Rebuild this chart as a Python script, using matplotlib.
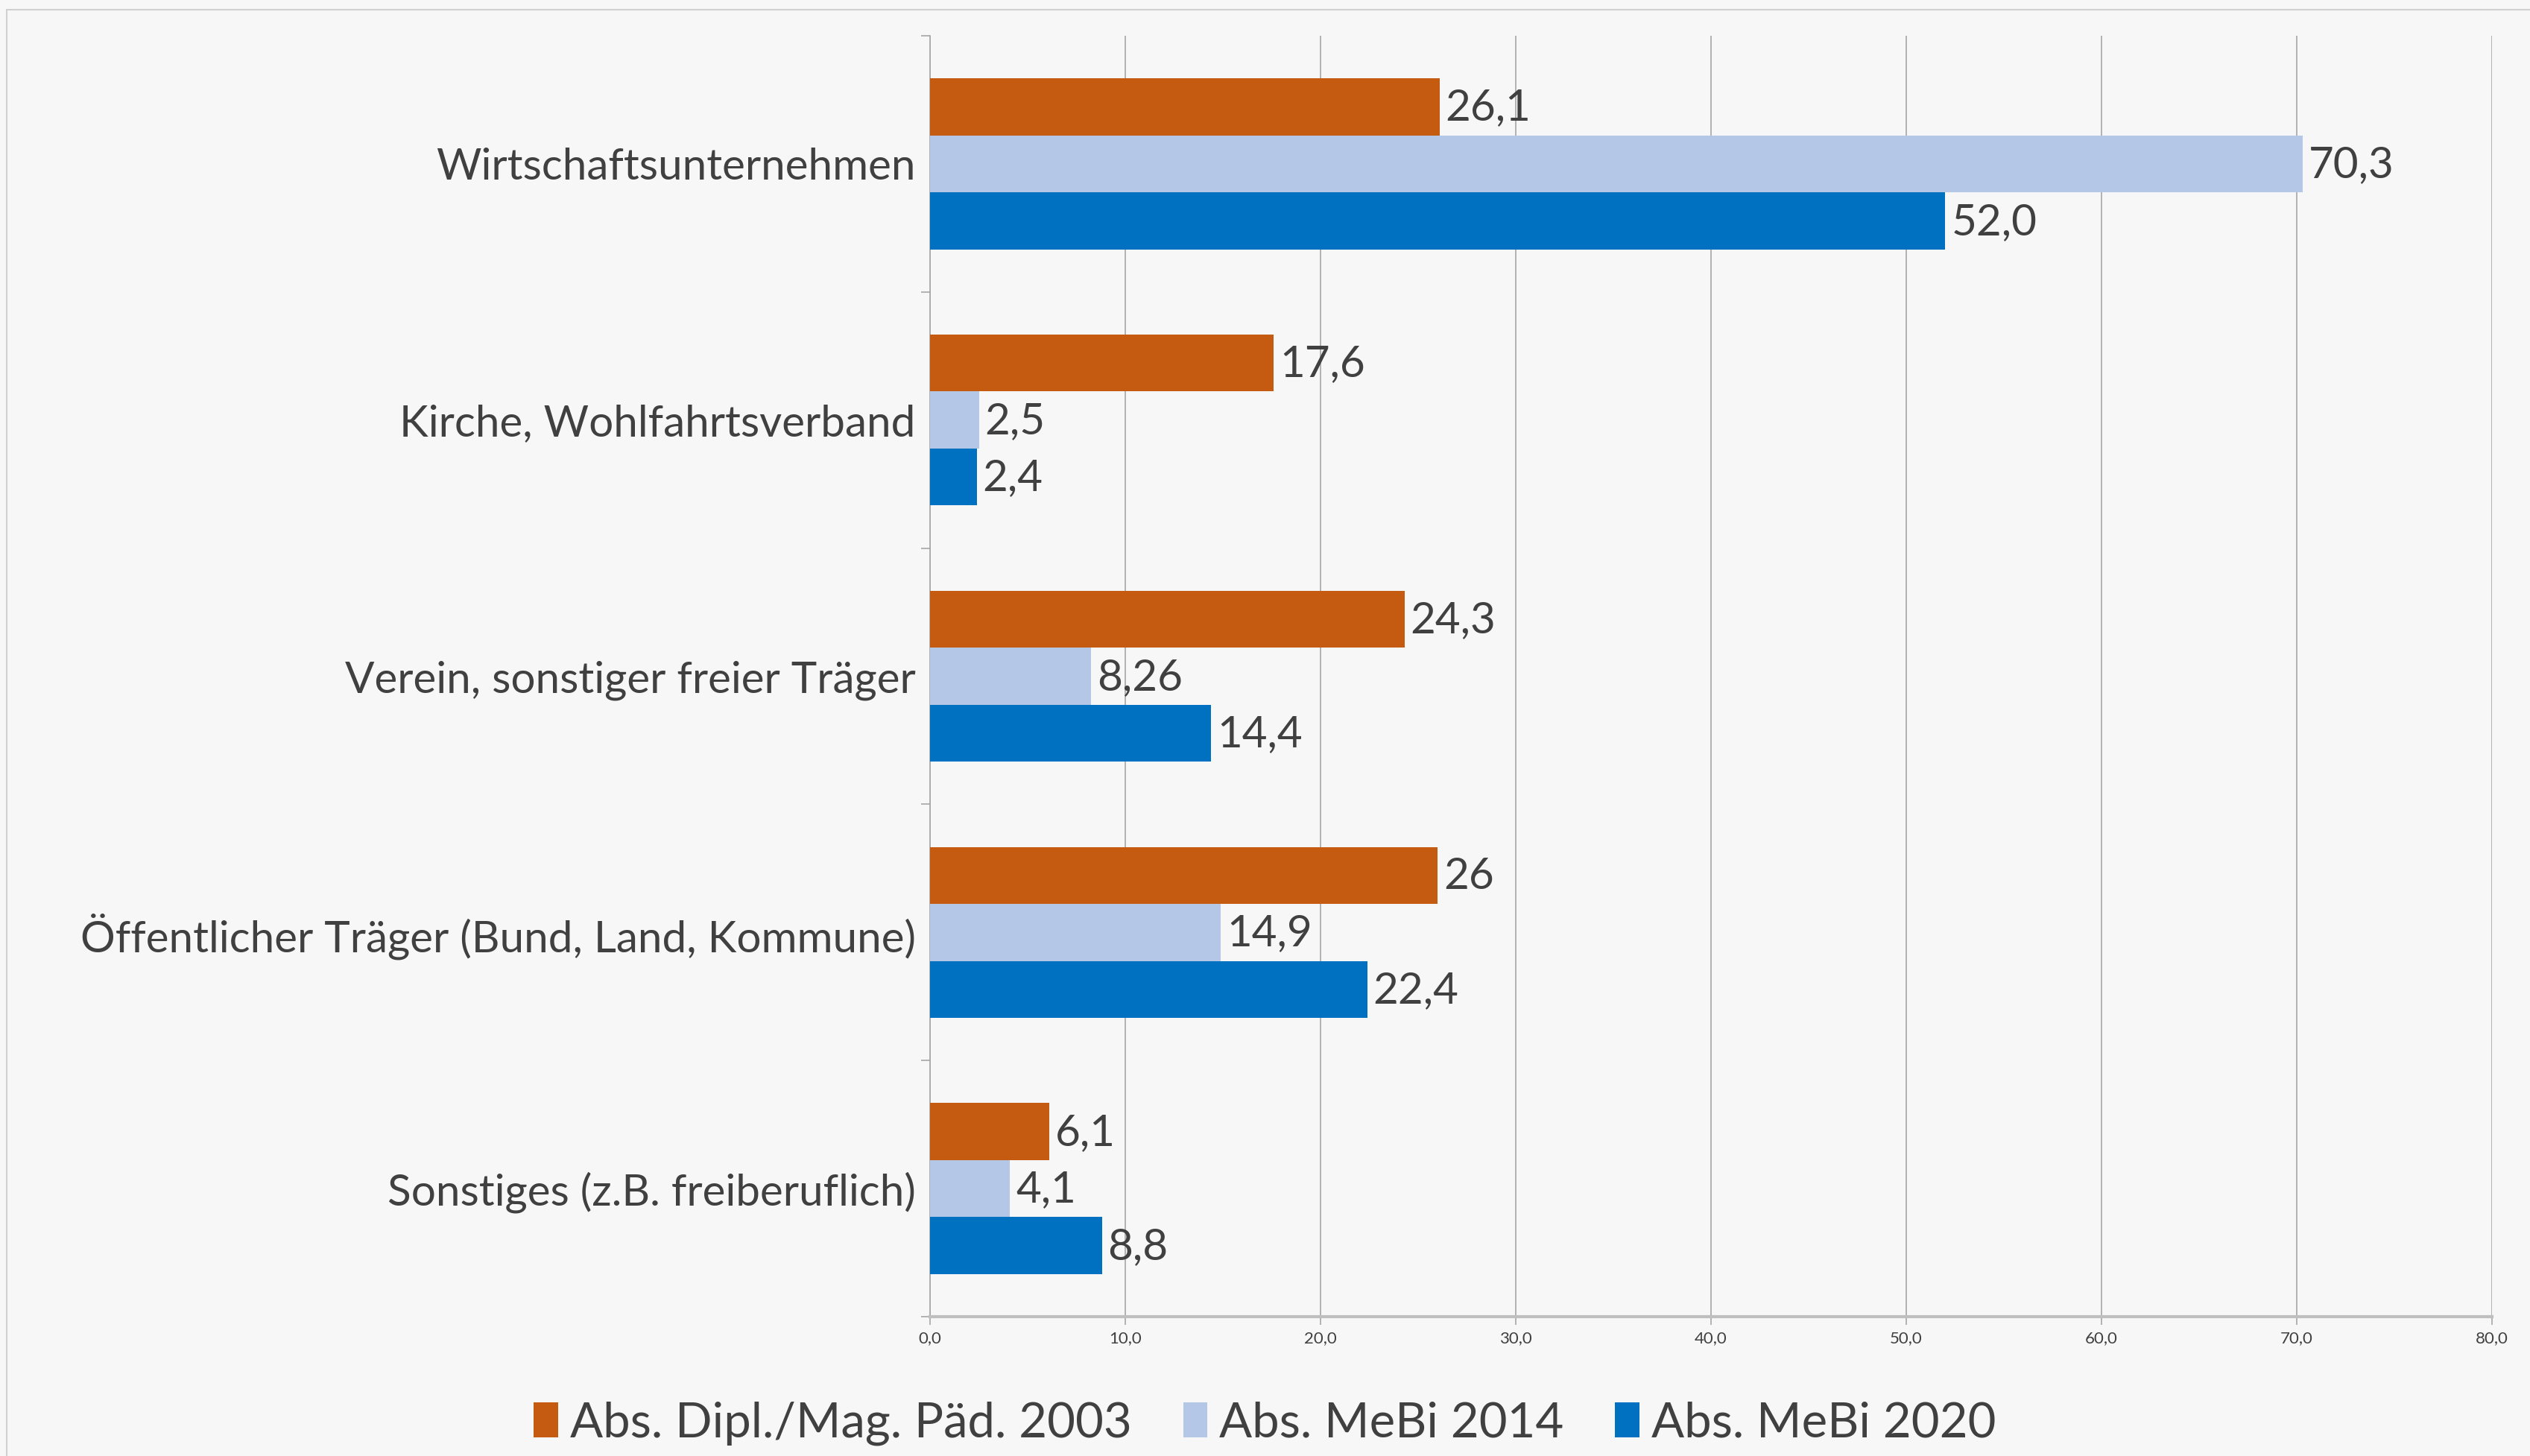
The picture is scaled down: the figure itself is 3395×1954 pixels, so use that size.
import numpy as np
import matplotlib
matplotlib.use("Agg")
from matplotlib import pyplot as plt
from matplotlib.patches import Rectangle

# data
categories = ["Wirtschaftsunternehmen",
              "Kirche, Wohlfahrtsverband",
              "Verein, sonstiger freier Träger",
              "Öffentlicher Träger (Bund, Land, Kommune)",
              "Sonstiges (z.B. freiberuflich)"]
series_names = ["Abs. Dipl./Mag. Päd. 2003", "Abs. MeBi 2014", "Abs. MeBi 2020"]
vals_2003 = [26.1, 17.6, 24.3, 26.0, 6.1]
vals_2014 = [70.3, 2.5, 8.26, 14.9, 4.1]
vals_2020 = [52.0, 2.4, 14.4, 22.4, 8.8]
labels_2003 = ["26,1", "17,6", "24,3", "26", "6,1"]
labels_2014 = ["70,3", "2,5", "8,26", "14,9", "4,1"]
labels_2020 = ["52,0", "2,4", "14,4", "22,4", "8,8"]
xticks = [0, 10, 20, 30, 40, 50, 60, 70, 80]
xticklabels = ["0,0", "10,0", "20,0", "30,0", "40,0", "50,0", "60,0", "70,0", "80,0"]

colors = ["#C55A11", "#B4C7E7", "#0070C0"]
bg = "#F7F7F7"
txt = "#404040"

plt.rcParams['font.family'] = ['Lato', 'DejaVu Sans']

W, H = 3395, 1954
fig = plt.figure(figsize=(W / 100, H / 100), dpi=100, facecolor=bg)
ax = fig.add_axes([1248 / W, 1 - 1767 / H, (3344 - 1248) / W, (1767 - 48) / H])
ax.set_facecolor(bg)

# outer chart border
fig.patches.append(Rectangle((9 / W, -0.1), 1.2, 1 - 13 / H + 0.1, transform=fig.transFigure,
                             fill=False, edgecolor="#D0D0D0", linewidth=1.5))

y = np.arange(len(categories))
h = 0.2226
all_vals = [vals_2003, vals_2014, vals_2020]
all_labels = [labels_2003, labels_2014, labels_2020]
for i in range(3):
    ypos = y + (i - 1) * h
    ax.barh(ypos, all_vals[i], height=h, color=colors[i], label=series_names[i], zorder=3)
    for yy, v, lab in zip(ypos, all_vals[i], all_labels[i]):
        ax.text(v + 0.3, yy + 0.005, lab, va="center", ha="left", fontsize=42, color=txt, zorder=4)

ax.set_xlim(0, 80)
ax.set_ylim(len(categories) - 0.5, -0.5)
ax.set_xticks(xticks)
ax.set_xticklabels(xticklabels, fontsize=16, color=txt)
ax.set_yticks(y)
ax.set_yticklabels(categories, fontsize=42, color=txt)
ax.set_yticks(np.arange(-0.5, len(categories), 1), minor=True)
ax.tick_params(axis="y", which="major", length=0, pad=14)
ax.tick_params(axis="y", which="minor", length=9, width=1.2, color="#A6A6A6")
ax.tick_params(axis="x", length=8, width=1.2, color="#A6A6A6", pad=6)

ax.grid(axis="x", color="#A6A6A6", linewidth=1.2, zorder=0)
for s in ["top", "right"]:
    ax.spines[s].set_visible(False)
ax.spines["left"].set_color("#A6A6A6")
ax.spines["left"].set_linewidth(1.2)
ax.spines["bottom"].set_color("#BFBFBF")
ax.spines["bottom"].set_linewidth(3)

leg = fig.legend(loc="center", bbox_to_anchor=(0.5, 1 - 1910 / H), ncol=3, frameon=False,
                 fontsize=47, handlelength=0.5, handleheight=0.75, handletextpad=0.25,
                 columnspacing=1.05, labelcolor=txt)

fig.savefig("out.png", dpi=100, facecolor=bg)
